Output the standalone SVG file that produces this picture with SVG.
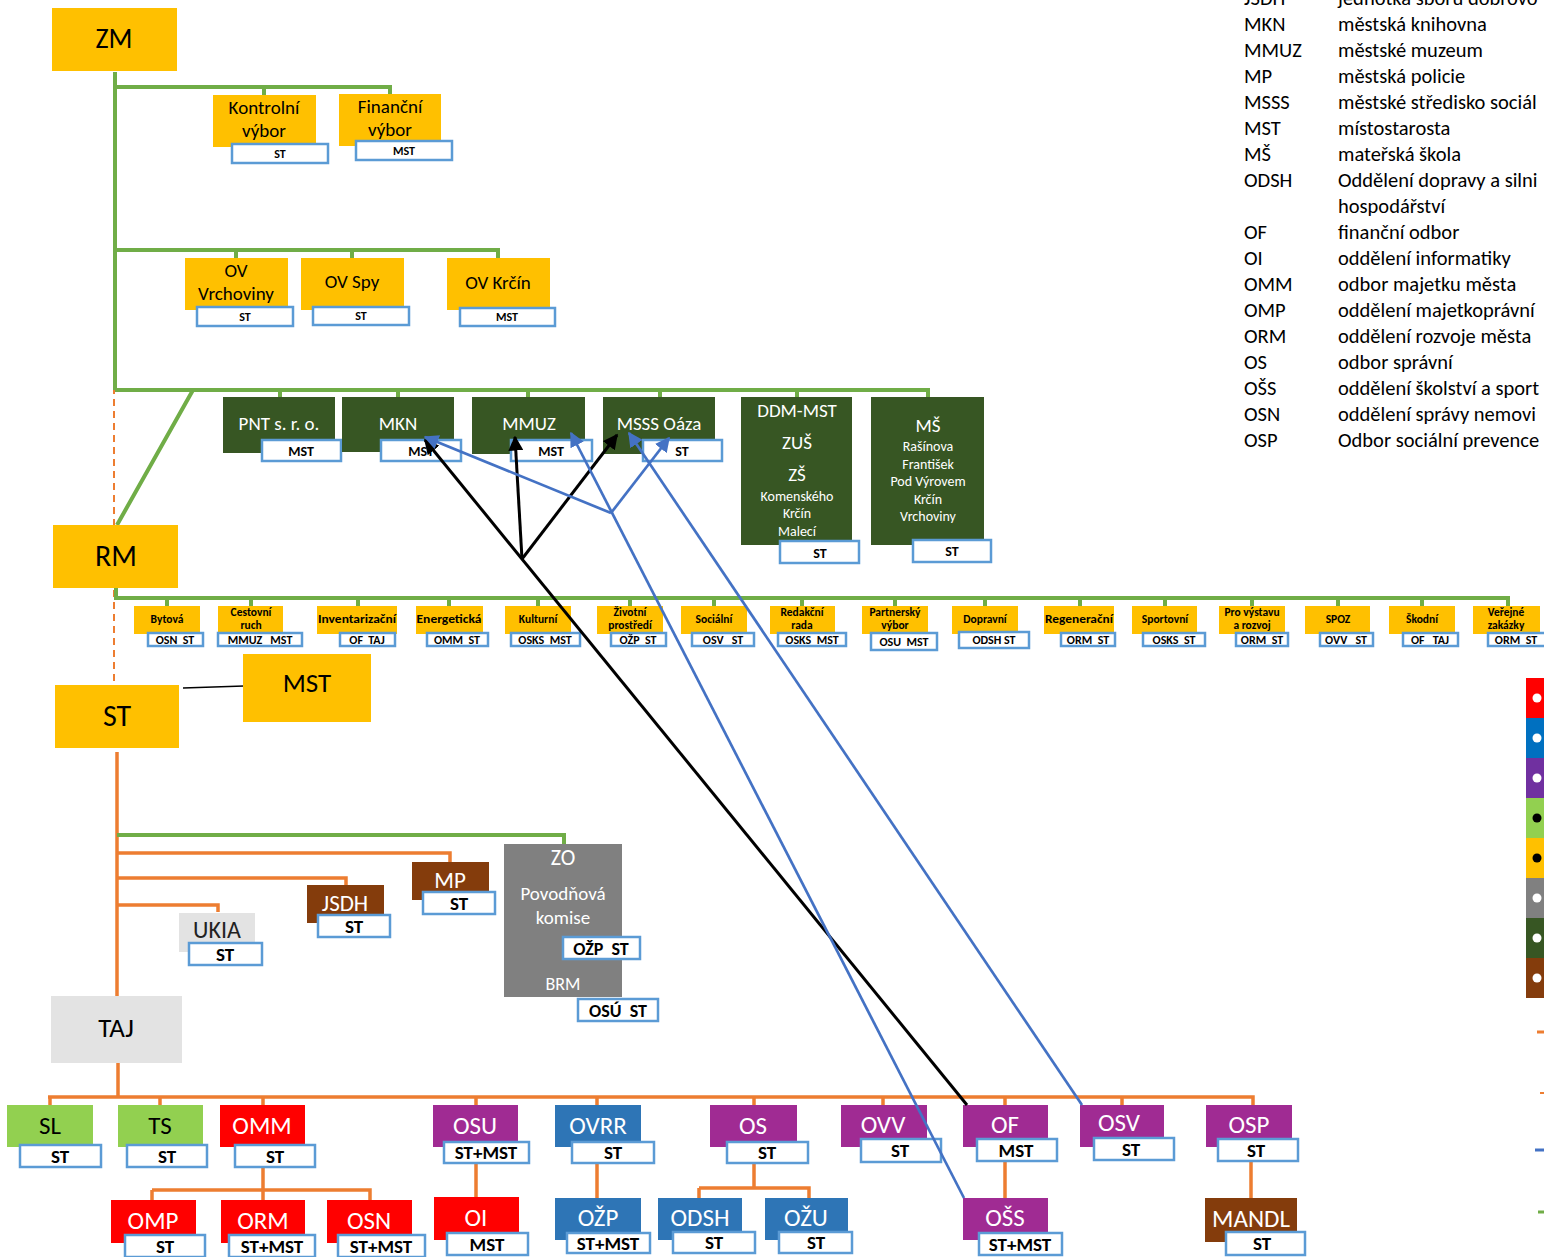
<svg xmlns="http://www.w3.org/2000/svg" width="1544" height="1257" viewBox="0 0 1544 1257">
<defs>
<style>
text{font-family:Carlito,Lato,"Liberation Sans",sans-serif;text-anchor:middle}
.y{fill:#ffc000}.dg{fill:#375623}.lg{fill:#92d050}.r{fill:#ff0000}.b{fill:#2e75b6}.p{fill:#a02b93}.gr{fill:#808080}.br{fill:#843c0c}.lgy{fill:#e3e3e3}
.lb{fill:#fff;stroke:#5b9bd5;stroke-width:2.5}
.lt{font-weight:bold;fill:#000}
.w{fill:#fff}.k{fill:#000}
.gl{stroke:#70ad47;stroke-width:4;fill:none}
.ol{stroke:#ed7d31;stroke-width:3.5;fill:none}
.od{stroke:#ed7d31;stroke-width:2;fill:none;stroke-dasharray:7 5}
.cm{font-weight:bold;font-size:11.5px;fill:#000}
.cl{font-weight:bold;font-size:12px;fill:#000}
.leg{font-size:20.5px;fill:#000;text-anchor:start}
.bn{font-size:25px}
.bl{font-weight:bold;fill:#000;font-size:19px}
</style>
<marker id="ak" viewBox="0 0 10 10" refX="9" refY="5" markerWidth="5" markerHeight="5" orient="auto"><path d="M0,0 L10,5 L0,10 z" fill="#000"/></marker>
<marker id="ab" viewBox="0 0 10 10" refX="9" refY="5" markerWidth="5.5" markerHeight="5.5" orient="auto"><path d="M0,0 L10,5 L0,10 z" fill="#4472c4"/></marker>
</defs>
<rect width="1544" height="1257" fill="#fff"/>

<g id="connectors">
<path class="od" d="M114 255 V525 M114 590 V685"/>
<path class="gl" d="M115 72 V390 M115 87 H390 V95 M264 87 V95 M115 250 H498 V258 M236 250 V258 M352 250 V258 M115 390 H928 V397 M280 390 V397 M398 390 V397 M528 390 V397 M660 390 V397 M797 390 V397 M193 390 L117 525"/>
<path class="gl" d="M116 588 V598 H1508 V606 M167 598 V606 M251 598 V606 M358 598 V606 M449 598 V606 M538 598 V606 M630 598 V606 M714 598 V606 M802 598 V606 M895 598 V606 M985 598 V606 M1080 598 V606 M1165 598 V606 M1252 598 V606 M1338 598 V606 M1422 598 V606"/>
<path d="M183 688 L244 686" stroke="#000" stroke-width="1.5"/>
<path class="ol" d="M117 752 V996 M117 853 H450 V862 M117 878 H346 V885 M117 905 H218 V912"/>
<path class="gl" d="M117 835 H564 V844"/>
<path class="ol" d="M118 1063 V1097 M48 1097 H1253 V1105 M50 1097 V1105 M160 1097 V1105 M263 1097 V1105 M476 1097 V1105 M597 1097 V1105 M754 1097 V1105 M883 1097 V1105 M1005 1097 V1105 M1122 1097 V1105"/>
<path class="ol" d="M263 1167 V1190 M152 1190 H370 V1200 M152 1190 V1200 M263 1190 V1200 M476 1163 V1197 M597 1163 V1198 M754 1163 V1188 M699 1188 H809 V1198 M699 1188 V1198 M1005 1161 V1198 M1251 1161 V1198"/>
</g>

<g id="n-zm"><rect class="y" x="52" y="8" width="125" height="63"/><text x="114" y="48" font-size="28">ZM</text></g>
<g id="n-kontrolni"><rect class="y" x="213" y="95" width="103" height="52"/><text x="264" y="114" font-size="19">Kontrolní</text><text x="264" y="137" font-size="19">výbor</text><rect class="lb" x="232" y="144" width="96" height="19"/><text class="lt" x="280" y="158" font-size="12">ST</text></g>
<g id="n-financni"><rect class="y" x="339" y="94" width="102" height="52"/><text x="390" y="113" font-size="19">Finanční</text><text x="390" y="136" font-size="19">výbor</text><rect class="lb" x="356" y="141" width="96" height="19"/><text class="lt" x="404" y="155" font-size="12">MST</text></g>
<g id="n-ov-vrchoviny"><rect class="y" x="185" y="258" width="103" height="52"/><text x="236" y="277" font-size="19">OV</text><text x="236" y="300" font-size="19">Vrchoviny</text><rect class="lb" x="197" y="307" width="96" height="19"/><text class="lt" x="245" y="321" font-size="12">ST</text></g>
<g id="n-ov-spy"><rect class="y" x="301" y="258" width="103" height="52"/><text x="352" y="288" font-size="19">OV Spy</text><rect class="lb" x="313" y="307" width="96" height="18"/><text class="lt" x="361" y="320" font-size="12">ST</text></g>
<g id="n-ov-krcin"><rect class="y" x="447" y="258" width="103" height="52"/><text x="498" y="289" font-size="19">OV Krčín</text><rect class="lb" x="460" y="308" width="95" height="18"/><text class="lt" x="507" y="321" font-size="12">MST</text></g>

<g id="n-pnt"><rect class="dg" x="223" y="397" width="112" height="56"/><text class="w" x="279" y="430" font-size="19">PNT s. r. o.</text><rect class="lb" x="262" y="440" width="79" height="21"/><text class="lt" x="301" y="456" font-size="14">MST</text></g>
<g id="n-mkn"><rect class="dg" x="342" y="397" width="112" height="55"/><text class="w" x="398" y="430" font-size="19">MKN</text><rect class="lb" x="381" y="440" width="80" height="21"/><text class="lt" x="421" y="456" font-size="14">MST</text></g>
<g id="n-mmuz"><rect class="dg" x="472" y="397" width="113" height="57"/><text class="w" x="529" y="430" font-size="19">MMUZ</text><rect class="lb" x="511" y="440" width="81" height="21"/><text class="lt" x="551" y="456" font-size="14">MST</text></g>
<g id="n-msss"><rect class="dg" x="603" y="397" width="112" height="57"/><text class="w" x="659" y="430" font-size="19">MSSS Oáza</text><rect class="lb" x="643" y="440" width="79" height="21"/><text class="lt" x="682" y="456" font-size="14">ST</text></g>
<g id="n-ddm"><rect class="dg" x="741" y="397" width="111" height="148"/><text class="w" x="797" y="417" font-size="19">DDM-MST</text><text class="w" x="797" y="449" font-size="19">ZUŠ</text><text class="w" x="797" y="481" font-size="19">ZŠ</text><text class="w" x="797" y="501" font-size="14">Komenského</text><text class="w" x="797" y="518" font-size="14">Krčín</text><text class="w" x="797" y="536" font-size="14">Malecí</text><rect class="lb" x="780" y="541" width="79" height="22"/><text class="lt" x="820" y="558" font-size="14">ST</text></g>
<g id="n-ms"><rect class="dg" x="871" y="397" width="113" height="148"/><text class="w" x="928" y="432" font-size="19">MŠ</text><text class="w" x="928" y="451" font-size="14">Rašínova</text><text class="w" x="928" y="469" font-size="14">František</text><text class="w" x="928" y="486" font-size="14">Pod Výrovem</text><text class="w" x="928" y="504" font-size="14">Krčín</text><text class="w" x="928" y="521" font-size="14">Vrchoviny</text><rect class="lb" x="913" y="540" width="78" height="22"/><text class="lt" x="952" y="556" font-size="14">ST</text></g>

<g id="n-rm"><rect class="y" x="53" y="525" width="125" height="63"/><text x="116" y="566" font-size="30">RM</text></g>

<g id="n-bytova"><rect class="y" x="134" y="606" width="66" height="28"/><text class="cm" x="167" y="623">Bytová</text><rect class="lb" x="148" y="633" width="55" height="13"/><text class="cl" x="175" y="644" xml:space="preserve">OSN  ST</text></g>
<g id="n-cestovni"><rect class="y" x="218" y="606" width="65" height="28"/><text class="cm" x="251" y="616">Cestovní</text><text class="cm" x="251" y="629">ruch</text><rect class="lb" x="218" y="633" width="84" height="13"/><text class="cl" x="260" y="644" xml:space="preserve">MMUZ   MST</text></g>
<g id="n-inventarizacni"><rect class="y" x="317" y="606" width="80" height="28"/><text class="cm" x="357" y="623" textLength="78" lengthAdjust="spacingAndGlyphs">Inventarizační</text><rect class="lb" x="340" y="633" width="55" height="13"/><text class="cl" x="367" y="644" xml:space="preserve">OF  TAJ</text></g>
<g id="n-energeticka"><rect class="y" x="416" y="606" width="67" height="28"/><text class="cm" x="449" y="623" textLength="65" lengthAdjust="spacingAndGlyphs">Energetická</text><rect class="lb" x="427" y="633" width="61" height="13"/><text class="cl" x="457" y="644" xml:space="preserve">OMM  ST</text></g>
<g id="n-kulturni"><rect class="y" x="505" y="606" width="66" height="28"/><text class="cm" x="538" y="623">Kulturní</text><rect class="lb" x="511" y="633" width="69" height="13"/><text class="cl" x="545" y="644" xml:space="preserve">OSKS  MST</text></g>
<g id="n-zivotni"><rect class="y" x="597" y="606" width="66" height="28"/><text class="cm" x="630" y="616">Životní</text><text class="cm" x="630" y="629">prostředí</text><rect class="lb" x="611" y="633" width="55" height="13"/><text class="cl" x="638" y="644" xml:space="preserve">OŽP  ST</text></g>
<g id="n-socialni"><rect class="y" x="681" y="606" width="66" height="28"/><text class="cm" x="714" y="623">Sociální</text><rect class="lb" x="692" y="633" width="62" height="13"/><text class="cl" x="723" y="644" xml:space="preserve">OSV   ST</text></g>
<g id="n-redakcni"><rect class="y" x="770" y="606" width="65" height="28"/><text class="cm" x="802" y="616">Redakční</text><text class="cm" x="802" y="629">rada</text><rect class="lb" x="778" y="633" width="68" height="13"/><text class="cl" x="812" y="644" xml:space="preserve">OSKS  MST</text></g>
<g id="n-partnersky"><rect class="y" x="862" y="606" width="66" height="28"/><text class="cm" x="895" y="616">Partnerský</text><text class="cm" x="895" y="629">výbor</text><rect class="lb" x="871" y="633" width="66" height="17"/><text class="cl" x="904" y="646" xml:space="preserve">OSU  MST</text></g>
<g id="n-dopravni"><rect class="y" x="952" y="606" width="66" height="28"/><text class="cm" x="985" y="623">Dopravní</text><rect class="lb" x="959" y="632" width="70" height="16"/><text class="cl" x="994" y="644">ODSH ST</text></g>
<g id="n-regeneracni"><rect class="y" x="1044" y="606" width="70" height="28"/><text class="cm" x="1079" y="623" textLength="68" lengthAdjust="spacingAndGlyphs">Regenerační</text><rect class="lb" x="1061" y="633" width="54" height="13"/><text class="cl" x="1088" y="644" xml:space="preserve">ORM  ST</text></g>
<g id="n-sportovni"><rect class="y" x="1132" y="606" width="65" height="28"/><text class="cm" x="1165" y="623">Sportovní</text><rect class="lb" x="1143" y="633" width="62" height="13"/><text class="cl" x="1174" y="644" xml:space="preserve">OSKS  ST</text></g>
<g id="n-pro-vystavu"><rect class="y" x="1219" y="606" width="66" height="28"/><text class="cm" x="1252" y="616">Pro výstavu</text><text class="cm" x="1252" y="629">a rozvoj</text><rect class="lb" x="1236" y="633" width="52" height="13"/><text class="cl" x="1262" y="644" xml:space="preserve">ORM  ST</text></g>
<g id="n-spoz"><rect class="y" x="1305" y="606" width="65" height="28"/><text class="cm" x="1338" y="623">SPOZ</text><rect class="lb" x="1320" y="633" width="53" height="13"/><text class="cl" x="1346" y="644" xml:space="preserve">OVV   ST</text></g>
<g id="n-skodni"><rect class="y" x="1389" y="606" width="66" height="28"/><text class="cm" x="1422" y="623">Škodní</text><rect class="lb" x="1403" y="633" width="55" height="13"/><text class="cl" x="1430" y="644" xml:space="preserve">OF   TAJ</text></g>
<g id="n-verejne"><rect class="y" x="1473" y="606" width="67" height="28"/><text class="cm" x="1506" y="616">Veřejné</text><text class="cm" x="1506" y="629">zakázky</text><rect class="lb" x="1488" y="633" width="58" height="13"/><text class="cl" x="1516" y="644" xml:space="preserve">ORM  ST</text></g>

<g id="n-st"><rect class="y" x="55" y="685" width="124" height="63"/><text x="117" y="726" font-size="30">ST</text></g>
<g id="n-mst"><rect class="y" x="243" y="654" width="128" height="68"/><text x="307" y="692" font-size="27">MST</text></g>

<g id="n-ukia"><rect class="lgy" x="179" y="913" width="76" height="39"/><text x="217" y="938" font-size="24" fill="#222">UKIA</text><rect class="lb" x="189" y="943" width="73" height="22"/><text class="bl" x="225" y="961">ST</text></g>
<g id="n-jsdh"><rect class="br" x="307" y="885" width="77" height="38"/><text class="w" x="345" y="911" font-size="23">JSDH</text><rect class="lb" x="318" y="915" width="72" height="22"/><text class="bl" x="354" y="933">ST</text></g>
<g id="n-mp"><rect class="br" x="412" y="862" width="77" height="38"/><text class="w" x="450" y="888" font-size="23">MP</text><rect class="lb" x="423" y="892" width="72" height="22"/><text class="bl" x="459" y="910">ST</text></g>
<g id="n-zo"><rect class="gr" x="504" y="844" width="118" height="153"/><text class="w" x="563" y="865" font-size="22">ZO</text><text class="w" x="563" y="900" font-size="19">Povodňová</text><text class="w" x="563" y="924" font-size="19">komise</text><text class="w" x="563" y="990" font-size="18">BRM</text><rect class="lb" x="563" y="937" width="77" height="22"/><text class="lt" x="601" y="955" font-size="18" xml:space="preserve">OŽP  ST</text><rect class="lb" x="578" y="999" width="80" height="22"/><text class="lt" x="618" y="1017" font-size="18" xml:space="preserve">OSÚ  ST</text></g>
<g id="n-taj"><rect class="lgy" x="51" y="996" width="131" height="67"/><text x="116" y="1037" font-size="27">TAJ</text></g>

<g id="n-sl"><rect class="lg" x="7" y="1105" width="86" height="42"/><text class="k bn" x="50" y="1134">SL</text><rect class="lb" x="20" y="1145" width="81" height="22"/><text class="bl" x="60" y="1163">ST</text></g>
<g id="n-ts"><rect class="lg" x="118" y="1105" width="85" height="42"/><text class="k bn" x="160" y="1134">TS</text><rect class="lb" x="127" y="1145" width="80" height="22"/><text class="bl" x="167" y="1163">ST</text></g>
<g id="n-omm"><rect class="r" x="220" y="1105" width="85" height="42"/><text class="w bn" x="262" y="1134">OMM</text><rect class="lb" x="235" y="1145" width="80" height="22"/><text class="bl" x="275" y="1163">ST</text></g>
<g id="n-omp"><rect class="r" x="111" y="1200" width="85" height="43"/><text class="w bn" x="153" y="1229">OMP</text><rect class="lb" x="125" y="1235" width="80" height="22"/><text class="bl" x="165" y="1253">ST</text></g>
<g id="n-orm"><rect class="r" x="221" y="1200" width="84" height="43"/><text class="w bn" x="263" y="1229">ORM</text><rect class="lb" x="229" y="1235" width="86" height="22"/><text class="bl" x="272" y="1253">ST+MST</text></g>
<g id="n-osn"><rect class="r" x="327" y="1200" width="85" height="43"/><text class="w bn" x="369" y="1229">OSN</text><rect class="lb" x="338" y="1235" width="87" height="22"/><text class="bl" x="381" y="1253">ST+MST</text></g>
<g id="n-osu"><rect class="p" x="433" y="1105" width="85" height="42"/><text class="w bn" x="475" y="1134">OSU</text><rect class="lb" x="444" y="1142" width="85" height="21"/><text class="bl" x="486" y="1159">ST+MST</text></g>
<g id="n-oi"><rect class="r" x="434" y="1197" width="85" height="43"/><text class="w bn" x="476" y="1226">OI</text><rect class="lb" x="447" y="1233" width="81" height="22"/><text class="bl" x="487" y="1251">MST</text></g>
<g id="n-ovrr"><rect class="b" x="555" y="1105" width="86" height="42"/><text class="w bn" x="598" y="1134">OVRR</text><rect class="lb" x="572" y="1142" width="82" height="21"/><text class="bl" x="613" y="1159">ST</text></g>
<g id="n-ozp"><rect class="b" x="555" y="1198" width="86" height="42"/><text class="w bn" x="598" y="1226">OŽP</text><rect class="lb" x="567" y="1233" width="83" height="20"/><text class="bl" x="608" y="1250">ST+MST</text></g>
<g id="n-os"><rect class="p" x="710" y="1105" width="87" height="42"/><text class="w bn" x="753" y="1134">OS</text><rect class="lb" x="727" y="1142" width="81" height="21"/><text class="bl" x="767" y="1159">ST</text></g>
<g id="n-odsh"><rect class="b" x="658" y="1198" width="84" height="42"/><text class="w bn" x="700" y="1226">ODSH</text><rect class="lb" x="673" y="1232" width="82" height="21"/><text class="bl" x="714" y="1249">ST</text></g>
<g id="n-ozu"><rect class="b" x="765" y="1198" width="83" height="42"/><text class="w bn" x="806" y="1226">OŽU</text><rect class="lb" x="779" y="1232" width="73" height="21"/><text class="bl" x="816" y="1249">ST</text></g>
<g id="n-ovv"><rect class="p" x="841" y="1105" width="86" height="42"/><text class="w bn" x="883" y="1133">OVV</text><rect class="lb" x="861" y="1139" width="80" height="23"/><text class="bl" x="900" y="1157">ST</text></g>
<g id="n-of"><rect class="p" x="963" y="1105" width="85" height="42"/><text class="w bn" x="1005" y="1133">OF</text><rect class="lb" x="977" y="1139" width="80" height="22"/><text class="bl" x="1016" y="1157">MST</text></g>
<g id="n-oss"><rect class="p" x="963" y="1198" width="85" height="42"/><text class="w bn" x="1005" y="1226">OŠS</text><rect class="lb" x="979" y="1233" width="83" height="22"/><text class="bl" x="1020" y="1251">ST+MST</text></g>
<g id="n-osv"><rect class="p" x="1080" y="1105" width="84" height="42"/><text class="w bn" x="1119" y="1131">OSV</text><rect class="lb" x="1094" y="1138" width="80" height="22"/><text class="bl" x="1131" y="1156">ST</text></g>
<g id="n-osp"><rect class="p" x="1206" y="1105" width="86" height="42"/><text class="w bn" x="1249" y="1133">OSP</text><rect class="lb" x="1218" y="1139" width="80" height="22"/><text class="bl" x="1256" y="1157">ST</text></g>
<g id="n-mandl"><rect class="br" x="1205" y="1198" width="92" height="44"/><text class="w bn" x="1251" y="1227">MANDL</text><rect class="lb" x="1226" y="1232" width="79" height="23"/><text class="bl" x="1262" y="1250">ST</text></g>

<g id="connectors-links" fill="none">
<path d="M967 1105 L425 440" stroke="#000" stroke-width="3" marker-end="url(#ak)"/>
<path d="M522 559 L515 437" stroke="#000" stroke-width="3" marker-end="url(#ak)"/>
<path d="M522 559 L617 435" stroke="#000" stroke-width="3" marker-end="url(#ak)"/>
<path d="M964 1198 L571 433" stroke="#4472c4" stroke-width="2.7" marker-end="url(#ab)"/>
<path d="M1082 1105 L629 433" stroke="#4472c4" stroke-width="2.7" marker-end="url(#ab)"/>
<path d="M611 513 L425 437" stroke="#4472c4" stroke-width="2.7" marker-end="url(#ab)"/>
<path d="M611 513 L669 438" stroke="#4472c4" stroke-width="2.7" marker-end="url(#ab)"/>
</g>

<g id="legend-abbr">
<text class="leg" x="1244" y="5">JSDH</text><text class="leg" x="1338" y="5">jednotka sboru dobrovo</text>
<text class="leg" x="1244" y="31">MKN</text><text class="leg" x="1338" y="31">městská knihovna</text>
<text class="leg" x="1244" y="57">MMUZ</text><text class="leg" x="1338" y="57">městské muzeum</text>
<text class="leg" x="1244" y="83">MP</text><text class="leg" x="1338" y="83">městská policie</text>
<text class="leg" x="1244" y="109">MSSS</text><text class="leg" x="1338" y="109">městské středisko sociál</text>
<text class="leg" x="1244" y="135">MST</text><text class="leg" x="1338" y="135">místostarosta</text>
<text class="leg" x="1244" y="161">MŠ</text><text class="leg" x="1338" y="161">mateřská škola</text>
<text class="leg" x="1244" y="187">ODSH</text><text class="leg" x="1338" y="187">Oddělení dopravy a silni</text>
<text class="leg" x="1338" y="213">hospodářství</text>
<text class="leg" x="1244" y="239">OF</text><text class="leg" x="1338" y="239">finanční odbor</text>
<text class="leg" x="1244" y="265">OI</text><text class="leg" x="1338" y="265">oddělení informatiky</text>
<text class="leg" x="1244" y="291">OMM</text><text class="leg" x="1338" y="291">odbor majetku města</text>
<text class="leg" x="1244" y="317">OMP</text><text class="leg" x="1338" y="317">oddělení majetkoprávní</text>
<text class="leg" x="1244" y="343">ORM</text><text class="leg" x="1338" y="343">oddělení rozvoje města</text>
<text class="leg" x="1244" y="369">OS</text><text class="leg" x="1338" y="369">odbor správní</text>
<text class="leg" x="1244" y="395">OŠS</text><text class="leg" x="1338" y="395">oddělení školství a sport</text>
<text class="leg" x="1244" y="421">OSN</text><text class="leg" x="1338" y="421">oddělení správy nemovi</text>
<text class="leg" x="1244" y="447">OSP</text><text class="leg" x="1338" y="447">Odbor sociální prevence</text>
</g>

<g id="legend-colors">
<rect x="1526" y="678" width="18" height="40" fill="#ff0000"/><circle cx="1537" cy="698" r="4.5" fill="#fff"/>
<rect x="1526" y="718" width="18" height="40" fill="#0070c0"/><circle cx="1537" cy="738" r="4.5" fill="#fff"/>
<rect x="1526" y="758" width="18" height="40" fill="#7030a0"/><circle cx="1537" cy="778" r="4.5" fill="#fff"/>
<rect x="1526" y="798" width="18" height="40" fill="#92d050"/><circle cx="1537" cy="818" r="4.5" fill="#000"/>
<rect x="1526" y="838" width="18" height="40" fill="#ffc000"/><circle cx="1537" cy="858" r="4.5" fill="#000"/>
<rect x="1526" y="878" width="18" height="40" fill="#808080"/><circle cx="1537" cy="898" r="4.5" fill="#fff"/>
<rect x="1526" y="918" width="18" height="40" fill="#375623"/><circle cx="1537" cy="938" r="4.5" fill="#fff"/>
<rect x="1526" y="958" width="18" height="40" fill="#843c0c"/><circle cx="1537" cy="978" r="4.5" fill="#fff"/>
<path d="M1537 1032 H1544" stroke="#ed7d31" stroke-width="3"/>
<path d="M1540 1093 H1544" stroke="#ed7d31" stroke-width="2"/>
<path d="M1535 1150 H1544" stroke="#4472c4" stroke-width="3"/>
<path d="M1538 1212 H1544" stroke="#70ad47" stroke-width="3"/>
</g>
</svg>
